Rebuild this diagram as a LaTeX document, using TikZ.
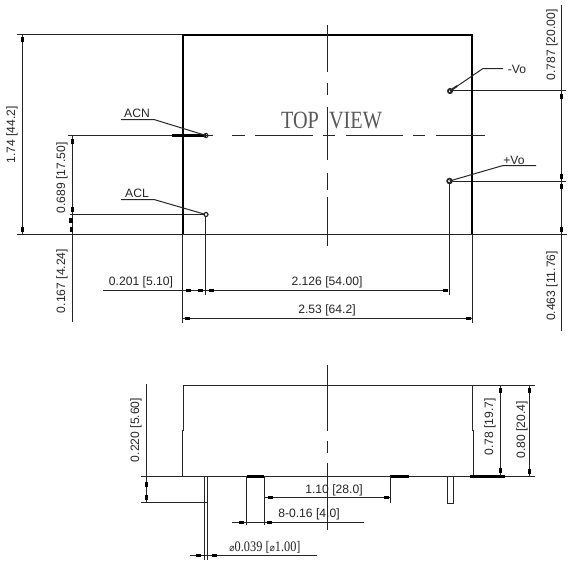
\documentclass[tikz,border=0pt]{standalone}
\usepackage{fontspec}
\setmainfont{Liberation Sans}
\newfontfamily\serifcond{Liberation Serif}
\newfontfamily\symfam{DejaVu Sans}
\definecolor{ink}{HTML}{262626}
\begin{document}
\begin{tikzpicture}[x=0.75pt,y=-0.75pt,
  thinl/.style={draw=ink,line width=0.75pt},
  heavy/.style={draw=black,line width=1.8pt},
  midl/.style={draw=black,line width=1.6pt},
  dimtext/.style={text=ink,inner sep=0pt,font=\fontsize{9.1}{11}\selectfont},
  vtext/.style={dimtext,rotate=90},
  sq/.style={fill=black,draw=none}]
\useasboundingbox (0,0) rectangle (573,562);
\fill[white] (0,0) rectangle (573,562);
% ---- top view: extension lines
\draw[thinl] (17,34.5) -- (183,34.5);
\draw[thinl] (17,234.5) -- (567,234.5);
\draw[thinl] (22.5,34.5) -- (22.5,234.5);
\draw[thinl] (68,135.5) -- (206,135.5);
\draw[thinl] (70,214.5) -- (204,214.5);
\draw[thinl] (72.5,136) -- (72.5,322);
\draw[thinl] (205.5,216) -- (205.5,295);
\draw[thinl] (449.5,182) -- (449.5,295);
\draw[thinl] (182.5,234) -- (182.5,323);
\draw[thinl] (472.5,234) -- (472.5,323);
\draw[thinl] (103,290.5) -- (447,290.5);
\draw[thinl] (183,318.5) -- (472,318.5);
\draw[thinl] (450,90.5) -- (566,90.5);
\draw[thinl] (450,181.5) -- (566,181.5);
\draw[thinl] (561.5,5) -- (561.5,331);
% body
\draw[heavy] (183,234) -- (183,35) -- (472,35) -- (472,234);
\draw[midl] (172,135.5) -- (206,135.5);
% centre lines
\draw[thinl] (327.5,25) -- (327.5,72);
\draw[thinl] (327.5,83) -- (327.5,95);
\draw[thinl] (327.5,107) -- (327.5,160);
\draw[thinl] (327.5,173) -- (327.5,190);
\draw[thinl] (327.5,197) -- (327.5,246);
\draw[thinl] (206,135.5) -- (213,135.5);
\draw[thinl] (232,135.5) -- (245,135.5);
\draw[thinl] (255,135.5) -- (313,135.5);
\draw[thinl] (323,135.5) -- (335,135.5);
\draw[thinl] (346,135.5) -- (403,135.5);
\draw[thinl] (413,135.5) -- (425,135.5);
\draw[thinl] (436,135.5) -- (485,135.5);
% pins
\coordinate (acnpin) at (206,135.5);
\coordinate (aclpin) at (206,214.5);
\coordinate (nvpin) at (450,91);
\coordinate (pvpin) at (449.5,181);
\draw[thinl,line width=0.9pt] (acnpin) circle (2);
\draw[thinl,line width=0.9pt] (aclpin) circle (2);
\draw[thinl,line width=1.2pt] (nvpin) circle (2.2);
\draw[thinl,line width=1.2pt] (pvpin) circle (2.4);
% pin labels
\node[dimtext] (acn) at (137,113) {ACN};
\node[dimtext] (acl) at (137,193) {ACL};
\node[dimtext] (nvo) at (517,69) {-Vo};
\node[dimtext] (pvo) at (514,160) {+Vo};
\draw[thinl] (121,119.5) -- (154,119.5) -- (acnpin);
\draw[thinl] (121,199.5) -- (154,199.5) -- (204,214);
\draw[thinl] (nvpin) -- (483,68.5) -- (503,68.5);
\draw[thinl] (pvpin) -- (503,165.5) -- (536,165.5);
\draw[thinl,line width=1.4pt] (nvpin) -- (457,86);
% title
\node[inner sep=0pt,text=black!65] (title) at (331.5,120)
  {\serifcond\fontsize{15.5}{18}\selectfont\scalebox{0.98}[1.2]{TOP\hspace{0.5em}VIEW}};
% dimension labels, top view
\node[vtext] (d174) at (12,135) {1.74 [44.2]};
\node[vtext] (d689) at (62,178) {0.689 [17.50]};
\node[vtext] (d167) at (62,281) {0.167 [4.24]};
\node[vtext] (d787) at (552,45) {0.787 [20.00]};
\node[vtext] (d463) at (552,286) {0.463 [11.76]};
\node[dimtext] (d201) at (141,282) {0.201 [5.10]};
\node[dimtext] (d2126) at (327,282) {2.126 [54.00]};
\node[dimtext] (d253) at (327,310) {2.53 [64.2]};
% arrow marks, top view
\foreach \p/\q in {22.5/39,22.5/229,72.5/141,72.5/209,71/220,71.5/229,561.5/96,561.5/176,561.5/186,561.5/229}
  \fill[sq] (\p-1.7,\q-2.5) rectangle (\p+1.7,\q+2.5);
\foreach \p/\q in {188/290.5,200/290.5,211/290.5,445/290.5,187/318.5,468/318.5}
  \fill[sq] (\p-2.5,\q-1.7) rectangle (\p+2.5,\q+1.7);
% ---- side view
\draw[thinl] (183,385.5) -- (535,385.5);
\draw[thinl] (183.5,385) -- (183.5,430) -- (182.5,430) -- (182.5,476);
\draw[thinl] (472.5,385) -- (472.5,430) -- (473.5,430) -- (473.5,476);
\draw[thinl] (141,476.5) -- (535,476.5);
\draw[midl] (247,476.5) -- (264,476.5);
\draw[midl] (390,476.5) -- (409,476.5);
\draw[midl] (470,476.5) -- (505,476.5);
\draw[thinl] (146.5,384) -- (146.5,503);
\draw[thinl] (141,502.5) -- (207,502.5);
\draw[thinl] (204.5,476) -- (204.5,560);
\draw[thinl] (207.5,476) -- (207.5,560);
\draw[thinl] (190,555.5) -- (317,555.5);
\draw[thinl] (246.5,476) -- (246.5,525);
\draw[thinl] (264.5,476) -- (264.5,525);
\draw[thinl] (232,522.5) -- (364,522.5);
\draw[thinl] (265,497.5) -- (390,497.5);
\draw[thinl] (390.5,476) -- (390.5,503);
\draw[thinl] (447.5,476) -- (447.5,503.5) -- (453.5,503.5) -- (453.5,476);
\draw[thinl] (327.5,365) -- (327.5,431);
\draw[thinl] (327.5,441) -- (327.5,453);
\draw[thinl] (327.5,463) -- (327.5,530);
\draw[thinl] (500.5,385) -- (500.5,476);
\draw[thinl] (529.5,385) -- (529.5,476);
% labels, side view
\node[vtext] (d220) at (136,430) {0.220 [5.60]};
\node[vtext] (d78) at (490,427) {0.78 [19.7]};
\node[vtext] (d80) at (522,430) {0.80 [20.4]};
\node[dimtext] (d110) at (334,490) {1.10 [28.0]};
\node[dimtext] (d016) at (309,514) {8-0.16 [4.0]};
\node[dimtext,font=\fontsize{8.4}{10}\selectfont] (d039) at (265,547)
  {\serifcond\scalebox{1.1}[1.3]{{\symfam\fontsize{6}{7}\selectfont ⌀}0.039 [{\symfam\fontsize{6}{7}\selectfont ⌀}1.00]}};
% arrow marks, side view
\foreach \p/\q in {146.5/484,146.5/497,500.5/390,500.5/470,529.5/390,529.5/471}
  \fill[sq] (\p-1.7,\q-2.5) rectangle (\p+1.7,\q+2.5);
\foreach \p/\q in {198/555.5,214/555.5,241/522.5,269/522.5,270/497.5,386/497.5}
  \fill[sq] (\p-2.5,\q-1.7) rectangle (\p+2.5,\q+1.7);
\end{tikzpicture}
\end{document}
